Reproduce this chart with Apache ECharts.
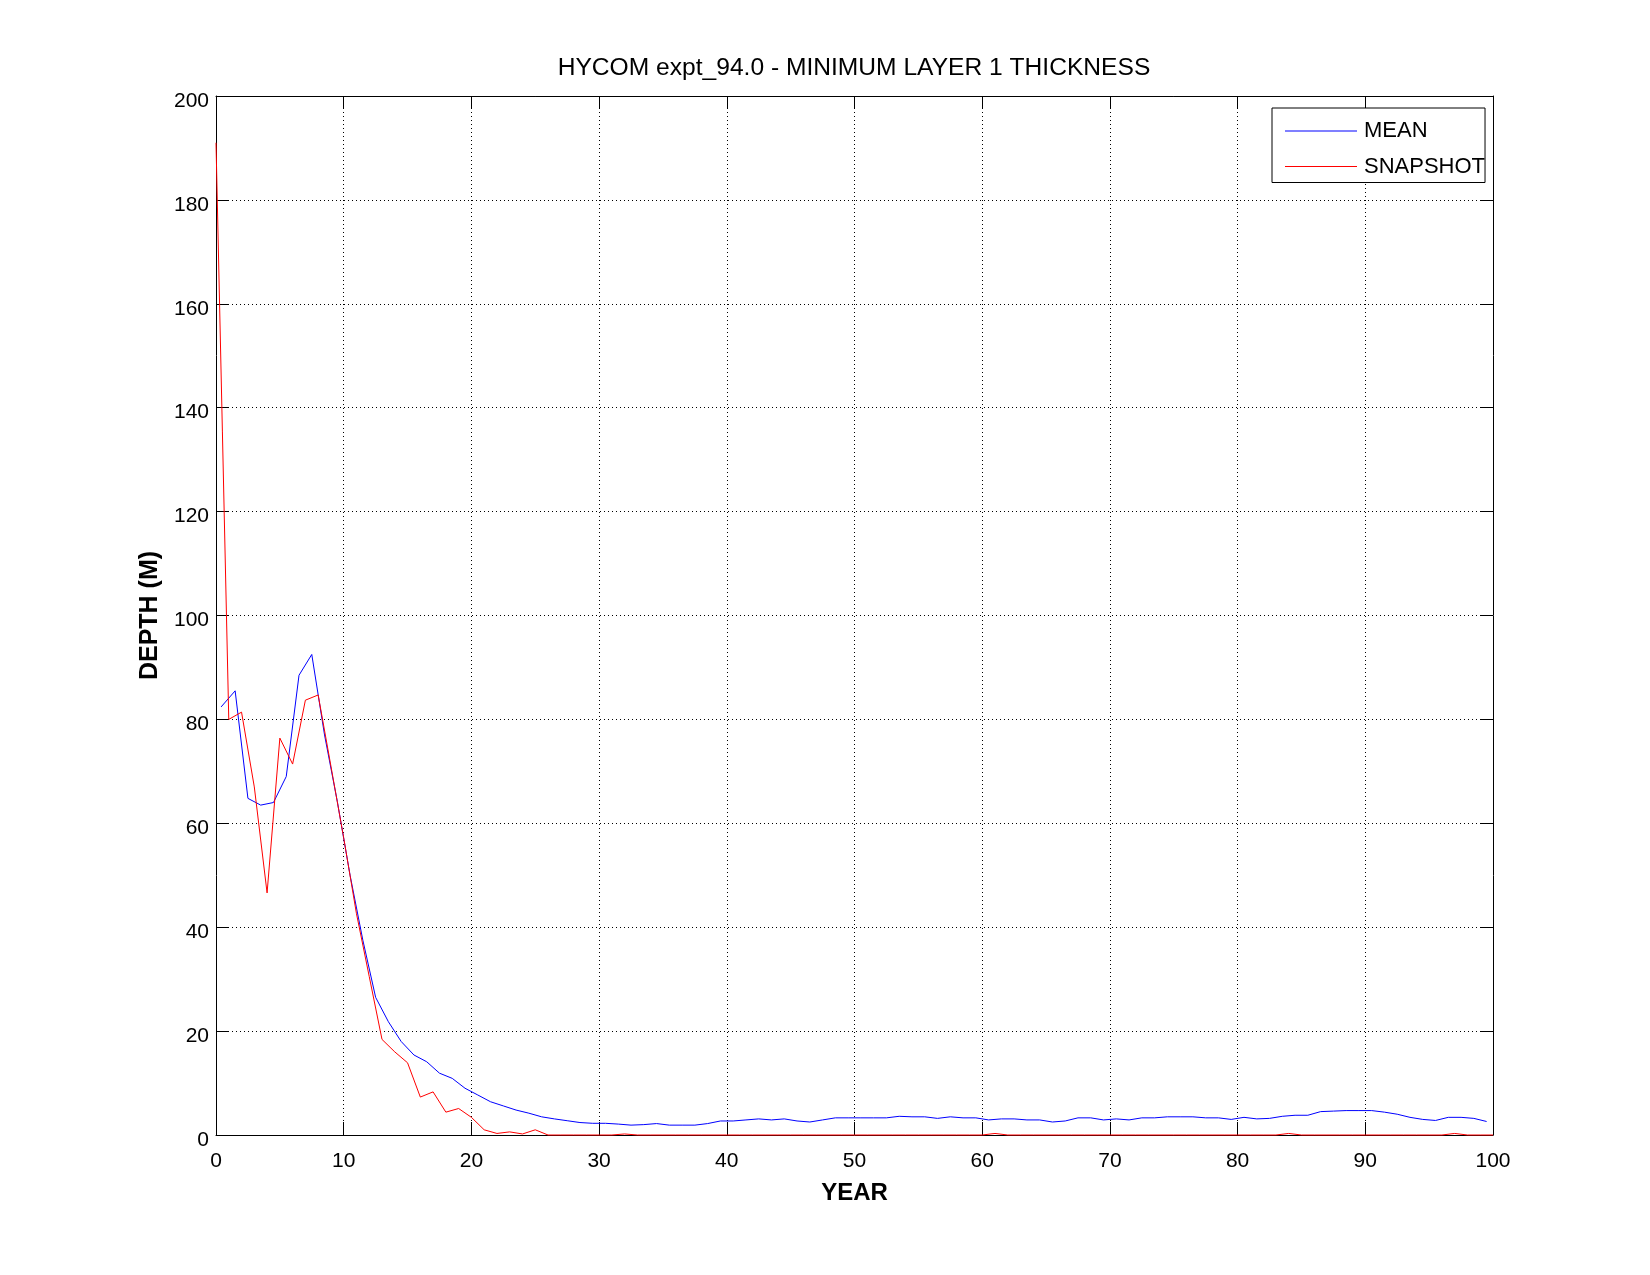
<!DOCTYPE html>
<html>
<head>
<meta charset="utf-8">
<script src="https://cdn.jsdelivr.net/npm/echarts@6/dist/echarts.min.js"></script>
<style>html,body{margin:0;padding:0;background:#fff;}#c{width:1650px;height:1275px;}</style>
</head>
<body>
<div id="c"></div>
<script>
const titleText = 'HYCOM expt_94.0 - MINIMUM LAYER 1 THICKNESS';
const xName = 'YEAR';
const yName = 'DEPTH (M)';
const seriesNames = ['MEAN', 'SNAPSHOT'];
const seriesColors = ['#0000ff', '#ff0000'];

const meanYears = [0.4,1.5,2.5,3.5,4.5,5.5,6.5,7.5,8.5,9.5,10.5,11.5,12.5,13.5,14.5,15.5,16.5,17.5,18.5,19.5,
  20.5,21.5,22.5,23.5,24.5,25.5,26.5,27.5,28.5,29.5,30.5,31.5,32.5,33.5,34.5,35.5,36.5,37.5,38.5,39.5,
  40.5,41.5,42.5,43.5,44.5,45.5,46.5,47.5,48.5,49.5,50.5,51.5,52.5,53.5,54.5,55.5,56.5,57.5,58.5,59.5,
  60.5,61.5,62.5,63.5,64.5,65.5,66.5,67.5,68.5,69.5,70.5,71.5,72.5,73.5,74.5,75.5,76.5,77.5,78.5,79.5,
  80.5,81.5,82.5,83.5,84.5,85.5,86.5,87.5,88.5,89.5,90.5,91.5,92.5,93.5,94.5,95.5,96.5,97.5,98.5,99.5];
const meanValues = [82.4,85.5,64.8,63.5,64.0,69.0,88.5,92.5,77.0,64.2,50.0,37.5,26.5,21.8,18.0,15.4,14.1,11.9,10.9,9.0,
  7.7,6.4,5.6,4.8,4.2,3.5,3.1,2.75,2.4,2.25,2.25,2.1,1.9,2.0,2.2,1.9,1.9,1.9,2.2,2.7,
  2.7,2.9,3.1,2.9,3.1,2.7,2.5,2.9,3.3,3.3,3.3,3.3,3.3,3.6,3.5,3.5,3.2,3.5,3.3,3.3,
  2.9,3.1,3.1,2.9,2.9,2.5,2.7,3.3,3.3,2.9,3.1,2.9,3.3,3.3,3.5,3.5,3.5,3.3,3.3,3.0,
  3.4,3.1,3.2,3.6,3.8,3.8,4.5,4.6,4.7,4.7,4.7,4.4,4.0,3.4,3.0,2.8,3.4,3.4,3.2,2.6];

const snapYears = [0,1,2,3,4,5,6,7,8,9,10,11,12,13,14,15,16,17,18,19,20,21,22,23,24,25,26,27,28,29,
  30,31,32,33,34,35,36,37,38,39,40,41,42,43,44,45,46,47,48,49,50,51,52,53,54,55,56,57,58,59,
  60,61,62,63,64,65,66,67,68,69,70,71,72,73,74,75,76,77,78,79,80,81,82,83,84,85,86,87,88,89,
  90,91,92,93,94,95,96,97,98,99,100];
const snapValues = [191,80,81.4,67,46.6,76.4,71.4,83.7,84.7,71.0,57.2,42.6,30.5,18.4,16.0,13.9,7.3,8.3,4.4,5.1,
  3.4,1.0,0.3,0.6,0.2,1.0,0,0,0,0,
  0,0,0.2,0,0,0,0,0,0,0,0,0,0,0,0,0,0,0,0,0,0,0,0,0,0,0,0,0,0,0,
  0,0.3,0,0,0,0,0,0,0,0,0,0,0,0,0,0,0,0,0,0,0,0,0,0,0.3,0,0,0,0,0,
  0,0,0,0,0,0,0,0.3,0,0,0];

const xTicks = {min: 0, max: 100, interval: 10};
const yTicks = {min: 0, max: 200, interval: 20};

const FONT = 'Liberation Sans, Arial, Helvetica, sans-serif';
const chart = echarts.init(document.getElementById('c'), null, {renderer: 'canvas'});

const pairs = (xs, ys) => xs.map((x, i) => [x, ys[i]]);
const gridLine = {show: true, lineStyle: {color: '#000', width: 1, type: [1, 3]}};
const axisLine = {show: true, onZero: false, lineStyle: {color: '#000', width: 1}};
const tickIn = {show: true, inside: true, length: 13, lineStyle: {color: '#000', width: 1}};

chart.setOption({
  animation: false,
  backgroundColor: '#fff',
  title: {
    text: titleText, left: 849, top: 51, textAlign: 'center',
    textStyle: {fontFamily: FONT, fontSize: 24.6, fontWeight: 'normal', color: '#000', lineHeight: 25}
  },
  legend: {
    orient: 'vertical', left: 1272, top: 108,
    padding: [12, 0, 5, 13], itemGap: 13.5, itemWidth: 72, itemHeight: 1,
    borderColor: '#000', borderWidth: 1, backgroundColor: '#fff',
    textStyle: {fontFamily: FONT, fontSize: 22, color: '#000', lineHeight: 22, padding: [0, 0, 0, 2]},
    data: seriesNames.map((n, i) => ({name: n, icon: 'rect', itemStyle: {color: seriesColors[i]}}))
  },
  grid: {left: 216, right: 157, top: 96, bottom: 140, containLabel: false},
  xAxis: [{
    type: 'value', min: xTicks.min, max: xTicks.max, interval: xTicks.interval,
    name: xName, nameLocation: 'middle', nameGap: 46,
    nameTextStyle: {fontFamily: FONT, fontSize: 24, fontWeight: 'bold', color: '#000'},
    axisLine: axisLine, axisTick: tickIn, splitLine: gridLine,
    axisLabel: {fontFamily: FONT, fontSize: 21, color: '#000', margin: 16}
  }, {
    type: 'value', position: 'top', min: xTicks.min, max: xTicks.max, interval: xTicks.interval,
    axisLine: axisLine, axisTick: tickIn, splitLine: {show: false}, axisLabel: {show: false}
  }],
  yAxis: [{
    type: 'value', min: yTicks.min, max: yTicks.max, interval: yTicks.interval,
    name: yName, nameLocation: 'middle', nameGap: 53, nameRotate: 90,
    nameTextStyle: {fontFamily: FONT, fontSize: 25, fontWeight: 'bold', color: '#000'},
    axisLine: axisLine, axisTick: tickIn, splitLine: gridLine,
    axisLabel: {fontFamily: FONT, fontSize: 21, color: '#000', margin: 7, verticalAlign: 'top', lineHeight: 10}
  }, {
    type: 'value', position: 'right', min: yTicks.min, max: yTicks.max, interval: yTicks.interval,
    axisLine: axisLine, axisTick: tickIn, splitLine: {show: false}, axisLabel: {show: false}
  }],
  series: [{
    name: seriesNames[0], type: 'line', xAxisIndex: 0, yAxisIndex: 0,
    data: pairs(meanYears, meanValues), symbol: 'none', showSymbol: false, clip: false,
    lineStyle: {color: seriesColors[0], width: 1}, itemStyle: {color: seriesColors[0]}, z: 3
  }, {
    name: seriesNames[1], type: 'line', xAxisIndex: 0, yAxisIndex: 0,
    data: pairs(snapYears, snapValues), symbol: 'none', showSymbol: false, clip: false,
    lineStyle: {color: seriesColors[1], width: 1}, itemStyle: {color: seriesColors[1]}, z: 4
  }]
});
</script>
</body>
</html>
